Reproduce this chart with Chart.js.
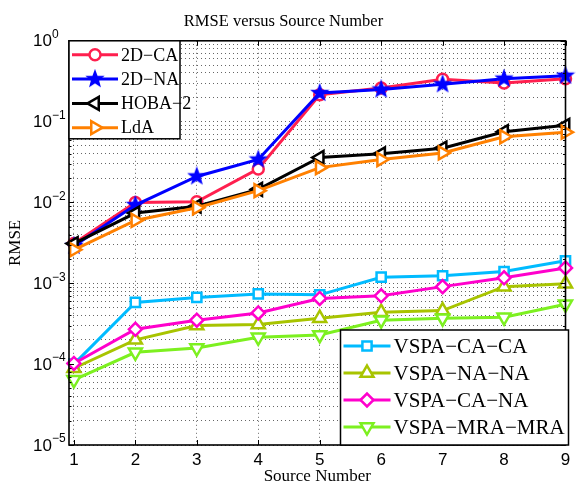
<!DOCTYPE html>
<html>
<head>
<meta charset="utf-8">
<script src="https://cdn.jsdelivr.net/npm/chart.js@4.4.1/dist/chart.umd.min.js"></script>
<style>
  html, body { margin: 0; padding: 0; background: #fff; }
  canvas { display: block; }
</style>
</head>
<body>
<canvas id="rmseChart" width="576" height="485"></canvas>
<script>
// RMSE against number of sources, log scale
const sourceNumbers = [1, 2, 3, 4, 5, 6, 7, 8, 9];
const rmse2dCa    = [3.1e-3, 1.0e-2, 1.02e-2, 2.6e-2, 0.215, 0.26, 0.335, 0.30, 0.34];
const rmse2dNa    = [2.9e-3, 9.3e-3, 2.1e-2, 3.4e-2, 0.226, 0.25, 0.29, 0.34, 0.37];
const rmseHoba2   = [3.1e-3, 7.4e-3, 9.0e-3, 1.45e-2, 3.6e-2, 4.0e-2, 4.7e-2, 7.5e-2, 9.0e-2];
const rmseLda     = [2.6e-3, 6.0e-3, 8.6e-3, 1.4e-2, 2.7e-2, 3.4e-2, 4.1e-2, 6.5e-2, 7.4e-2];
const rmseCaCa    = [1.0e-4, 5.8e-4, 6.7e-4, 7.4e-4, 7.2e-4, 1.19e-3, 1.24e-3, 1.4e-3, 1.9e-3];
const rmseNaNa    = [8.9e-5, 2.0e-4, 3.0e-4, 3.1e-4, 3.7e-4, 4.4e-4, 4.6e-4, 9.1e-4, 9.9e-4];
const rmseCaNa    = [1.02e-4, 2.7e-4, 3.5e-4, 4.3e-4, 6.5e-4, 7.0e-4, 9.1e-4, 1.17e-3, 1.55e-3];
const rmseMraMra  = [6.4e-5, 1.4e-4, 1.58e-4, 2.15e-4, 2.3e-4, 3.5e-4, 3.7e-4, 3.8e-4, 5.5e-4];

const seriesNames = ['2D−CA', '2D−NA', 'HOBA−2', 'LdA', 'VSPA−CA−CA', 'VSPA−NA−NA', 'VSPA−CA−NA', 'VSPA−MRA−MRA'];
const yDecades = [-5, -4, -3, -2, -1, 0];

const SERIF = '"Liberation Serif", "Times New Roman", serif';
const SANS = '"Liberation Sans", Arial, sans-serif';

// filled five-point star used as a point style
function makeStar(color, r) {
    const c = document.createElement('canvas');
    const s = Math.ceil(r * 2 + 4);
    c.width = c.height = s;
    const g = c.getContext('2d');
    g.beginPath();
    for (let i = 0; i < 10; i++) {
        const rad = i % 2 === 0 ? r : r * 0.42;
        const a = -Math.PI / 2 + i * Math.PI / 5;
        g.lineTo(s / 2 + rad * Math.cos(a), s / 2 + rad * Math.sin(a));
    }
    g.closePath();
    g.fillStyle = color;
    g.fill();
    g.strokeStyle = color;
    g.lineWidth = 1.5;
    g.stroke();
    return c;
}

function series(label, values, color, style) {
    return Object.assign({
        label,
        data: sourceNumbers.map((x, i) => ({ x, y: values[i] })),
        borderColor: color,
        backgroundColor: '#fff',
        pointBorderColor: color,
        pointBackgroundColor: '#fff',
        borderWidth: 3,
        pointBorderWidth: 2.5,
        pointRadius: 6,
        pointRotation: 0,
        tension: 0,
        clip: false
    }, style);
}

const datasets = [
    series(seriesNames[0], rmse2dCa, '#ff1f4e', { pointStyle: 'circle', pointRadius: 5.5 }),
    series(seriesNames[1], rmse2dNa, '#0000ff', { pointStyle: makeStar('#0000ff', 8), pointRadius: 8 }),
    series(seriesNames[2], rmseHoba2, '#000000', { pointStyle: 'triangle', pointRotation: -90, pointRadius: 7.5 }),
    series(seriesNames[3], rmseLda, '#ff8000', { pointStyle: 'triangle', pointRotation: 90, pointRadius: 7.5 }),
    series(seriesNames[4], rmseCaCa, '#00bbff', { pointStyle: 'rect', pointRadius: 6.5 }),
    series(seriesNames[5], rmseNaNa, '#a8c400', { pointStyle: 'triangle', pointRadius: 7.5 }),
    series(seriesNames[6], rmseCaNa, '#ff00cc', { pointStyle: 'rectRot', pointRadius: 6.5 }),
    series(seriesNames[7], rmseMraMra, '#7df020', { pointStyle: 'triangle', pointRotation: 180, pointRadius: 7.5 })
];
// later series sit on top
datasets.forEach((d, i) => { d.order = -i; });

const yTickValues = [];
yDecades.forEach(e => {
    for (let m = 1; m <= (e === 0 ? 1 : 9); m++) yTickValues.push(m * Math.pow(10, e));
});

function isDecade(v) {
    const l = Math.log10(v);
    return Math.abs(l - Math.round(l)) < 1e-9;
}

function strokeLine(ctx, x0, y0, x1, y1) {
    ctx.beginPath();
    ctx.moveTo(x0, y0);
    ctx.lineTo(x1, y1);
    ctx.stroke();
}

function drawLegend(chart, box) {
    const ctx = chart.ctx;
    ctx.save();
    ctx.fillStyle = '#fff';
    ctx.fillRect(box.x, box.y, box.w, box.h);
    ctx.strokeStyle = '#000';
    ctx.lineWidth = 1.5;
    ctx.strokeRect(box.x, box.y, box.w, box.h);
    box.items.forEach((idx, row) => {
        const ds = chart.data.datasets[idx];
        const y = box.y + box.firstRow + row * box.rowGap;
        const x0 = box.x + 3, x1 = x0 + box.lineLen, xm = (x0 + x1) / 2;
        ctx.strokeStyle = ds.borderColor;
        ctx.lineWidth = ds.borderWidth;
        strokeLine(ctx, x0, y, x1, y);
        ctx.fillStyle = ds.pointBackgroundColor;
        ctx.strokeStyle = ds.pointBorderColor;
        ctx.lineWidth = ds.pointBorderWidth;
        Chart.helpers.drawPoint(ctx, {
            pointStyle: ds.pointStyle,
            rotation: ds.pointRotation,
            radius: ds.pointRadius,
            borderWidth: ds.pointBorderWidth
        }, xm, y);
        ctx.fillStyle = '#000';
        ctx.font = box.fontSize + 'px ' + SERIF;
        ctx.textAlign = 'left';
        ctx.textBaseline = 'middle';
        ctx.fillText(ds.label, x1 + 3, y + 1);
    });
    ctx.restore();
}

const axesFrame = {
    id: 'axesFrame',
    afterDatasetsDraw(chart) {
        const ctx = chart.ctx;
        const { left, right, top, bottom } = chart.chartArea;
        const xs = chart.scales.x, ys = chart.scales.y;
        ctx.save();
        ctx.strokeStyle = '#000';
        ctx.lineWidth = 1;
        sourceNumbers.forEach(n => {
            const px = Math.round(xs.getPixelForValue(n)) + 0.5;
            strokeLine(ctx, px, bottom, px, bottom - 5);
            strokeLine(ctx, px, top, px, top + 5);
        });
        yTickValues.forEach(v => {
            const py = Math.round(ys.getPixelForValue(v)) + 0.5;
            const len = isDecade(v) ? 5 : 2.5;
            strokeLine(ctx, left, py, left + len, py);
            strokeLine(ctx, right, py, right - len, py);
        });
        ctx.lineWidth = 1.6;
        ctx.strokeRect(left, top, right - left, bottom - top);

        // y tick labels as 10 with raised exponent
        ctx.fillStyle = '#000';
        ctx.textAlign = 'left';
        ctx.textBaseline = 'middle';
        yDecades.forEach(e => {
            const py = ys.getPixelForValue(Math.pow(10, e));
            const x0 = left - 36;
            ctx.font = '17px ' + SANS;
            ctx.fillText('10', x0, py + 1);
            const w = ctx.measureText('10').width;
            ctx.font = '12px ' + SANS;
            ctx.fillText(e === 0 ? '0' : '−' + Math.abs(e), x0 + w, py - 6);
        });
        ctx.restore();

        drawLegend(chart, {
            x: left, y: top, w: 111, h: 98,
            firstRow: 14, rowGap: 24.3, lineLen: 46, fontSize: 18,
            items: [0, 1, 2, 3]
        });
        drawLegend(chart, {
            x: right - 225, y: bottom - 115, w: 228, h: 115,
            firstRow: 16, rowGap: 27, lineLen: 47, fontSize: 21,
            items: [4, 5, 6, 7]
        });
    }
};

const gridStyle = { color: 'rgba(0,0,0,0.6)', lineWidth: 1, drawTicks: false };

new Chart(document.getElementById('rmseChart'), {
    type: 'line',
    data: { datasets },
    plugins: [axesFrame],
    options: {
        responsive: false,
        animation: false,
        devicePixelRatio: 1,
        layout: { padding: { left: 0, right: 9, top: 0, bottom: 0 } },
        plugins: {
            legend: { display: false },
            tooltip: { enabled: false },
            title: {
                display: true,
                text: 'RMSE versus Source Number',
                color: '#000',
                font: { family: SERIF, size: 16.5, weight: 'normal' },
                padding: { top: 12, bottom: 9 }
            }
        },
        scales: {
            x: {
                type: 'linear',
                min: 0.92,
                max: 9,
                afterBuildTicks: s => { s.ticks = sourceNumbers.map(v => ({ value: v })); },
                afterFit: s => { s.height = 40; },
                grid: gridStyle,
                border: { display: false, dash: [1, 3] },
                ticks: {
                    color: '#000',
                    font: { family: SANS, size: 17 },
                    padding: 5,
                    maxRotation: 0,
                    autoSkip: false,
                    callback: v => String(v)
                },
                title: {
                    display: true,
                    text: 'Source Number',
                    color: '#000',
                    font: { family: SERIF, size: 17, lineHeight: 1 },
                    padding: 0
                }
            },
            y: {
                type: 'logarithmic',
                min: 1e-5,
                max: 1,
                afterBuildTicks: s => { s.ticks = yTickValues.map(v => ({ value: v })); },
                afterFit: s => { s.width = 69; },
                grid: gridStyle,
                border: { display: false, dash: [1, 3] },
                ticks: { display: false },
                title: {
                    display: true,
                    text: 'RMSE',
                    color: '#000',
                    font: { family: SERIF, size: 17, lineHeight: 1 },
                    padding: { top: 7, bottom: 0 }
                }
            }
        }
    }
});
</script>
</body>
</html>
